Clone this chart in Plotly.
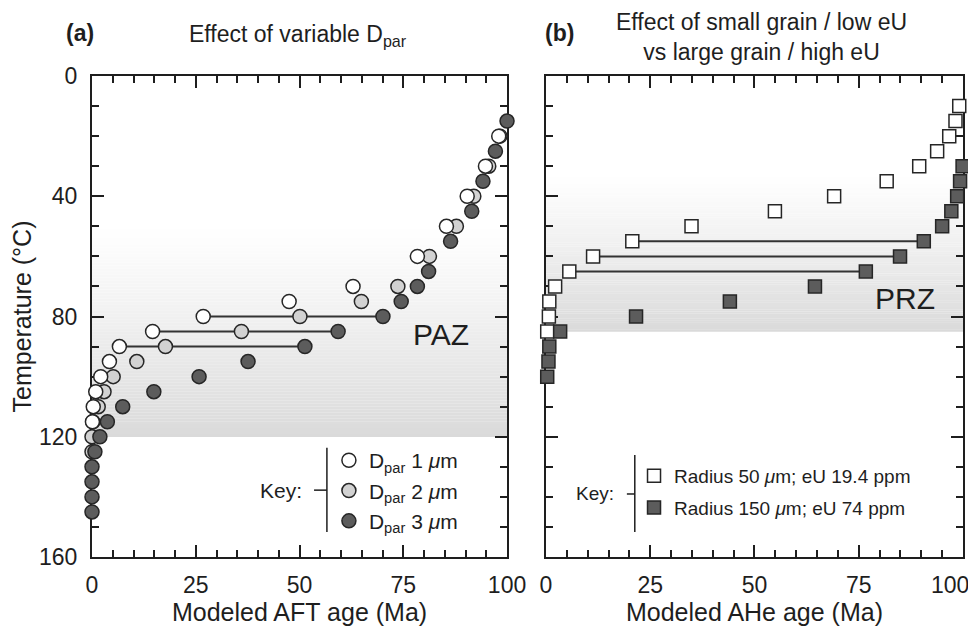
import plotly.graph_objects as go

# ---- data ----
# (a) AFT ages vs temperature for three Dpar values
aft_temp_d1 = [20, 30, 40, 50, 60, 70, 75, 80, 85, 90, 95, 100, 105, 110, 115]
aft_age_d1 = [98.0, 94.8, 90.4, 85.4, 78.4, 62.9, 47.5, 26.8, 14.6, 6.6, 4.2, 2.1, 0.9, 0.3, 0.1]

aft_temp_d2 = [20, 30, 40, 50, 60, 70, 75, 80, 85, 90, 95, 100, 105, 110, 115, 120, 125]
aft_age_d2 = [98.3, 95.6, 92.0, 87.8, 81.3, 73.7, 64.9, 50.1, 36.0, 17.7, 10.8, 5.1, 2.9, 1.5, 0.2, 0.0, 0.0]

aft_temp_d3 = [15, 25, 35, 45, 55, 65, 70, 75, 80, 85, 90, 95, 100, 105, 110, 115, 120, 125, 130, 135, 140, 145]
aft_age_d3 = [100.0, 97.2, 94.2, 91.5, 86.4, 81.1, 78.4, 74.5, 70.1, 59.3, 51.3, 37.6, 25.8, 14.9, 7.4, 3.7, 1.9, 0.7, 0.0, 0.0, 0.0, 0.0]

aft_link_temps = [80, 85, 90]

# (b) AHe ages vs temperature for two grain types
ahe_temp_small = [10, 15, 20, 25, 30, 35, 40, 45, 50, 55, 60, 65, 70, 75, 80, 85]
ahe_age_small = [99.1, 98.2, 96.7, 93.8, 89.5, 81.7, 69.1, 54.9, 34.9, 20.7, 11.3, 5.6, 2.2, 0.8, 0.7, 0.3]

ahe_temp_large = [10, 15, 20, 25, 30, 35, 40, 45, 50, 55, 60, 65, 70, 75, 80, 85, 90, 95, 100]
ahe_age_large = [100.4, 100.4, 100.3, 100.2, 99.9, 99.3, 98.6, 97.2, 95.0, 90.6, 84.9, 76.7, 64.5, 44.1, 21.6, 3.4, 0.8, 0.6, 0.3]

ahe_link_temps = [55, 60, 65]

age_ticks = [0, 25, 50, 75, 100]
# last label padded so it stays inside the page at the right edge
ahe_tick_text = ["0", "25", "50", "75", "100\u00a0\u00a0\u00a0\u00a0"]

paz_zone = [50, 120]   # shading fades in from the top value
prz_zone = [33, 85]

FONT = "Liberation Sans, Arial, Helvetica, sans-serif"
INK = "#1e1e1e"
EDGE = "#262626"

fig = go.Figure()

# link lines (drawn first so markers sit on top)
for t in aft_link_temps:
    fig.add_trace(go.Scatter(
        x=[aft_age_d1[aft_temp_d1.index(t)], aft_age_d3[aft_temp_d3.index(t)]], y=[t, t],
        mode="lines", line=dict(color="#333333", width=2), showlegend=False,
        xaxis="x", yaxis="y", hoverinfo="skip"))
for t in ahe_link_temps:
    fig.add_trace(go.Scatter(
        x=[ahe_age_small[ahe_temp_small.index(t)], ahe_age_large[ahe_temp_large.index(t)]], y=[t, t],
        mode="lines", line=dict(color="#333333", width=2), showlegend=False,
        xaxis="x2", yaxis="y2", hoverinfo="skip"))

circ = dict(size=14, line=dict(color=EDGE, width=1.5))
fig.add_trace(go.Scatter(x=aft_age_d2, y=aft_temp_d2, mode="markers", name="D<sub>par</sub> 2 <i>μ</i>m",
                         marker=dict(color="#d2d2d2", **circ), legendrank=2, cliponaxis=False,
                         xaxis="x", yaxis="y"))
fig.add_trace(go.Scatter(x=aft_age_d1, y=aft_temp_d1, mode="markers", name="D<sub>par</sub> 1 <i>μ</i>m",
                         marker=dict(color="white", **circ), legendrank=1, cliponaxis=False,
                         xaxis="x", yaxis="y"))
fig.add_trace(go.Scatter(x=aft_age_d3, y=aft_temp_d3, mode="markers", name="D<sub>par</sub> 3 <i>μ</i>m",
                         marker=dict(color="#5c5c5c", **circ), legendrank=3, cliponaxis=False,
                         xaxis="x", yaxis="y"))

sq = dict(size=13, symbol="square", line=dict(color=EDGE, width=1.5))
fig.add_trace(go.Scatter(x=ahe_age_small, y=ahe_temp_small, mode="markers",
                         name="Radius 50 <i>μ</i>m; eU 19.4 ppm", legend="legend2", legendgroup="s",
                         marker=dict(color="white", **sq), cliponaxis=False, xaxis="x2", yaxis="y2"))
fig.add_trace(go.Scatter(x=ahe_age_large, y=ahe_temp_large, mode="markers",
                         name="Radius 150 <i>μ</i>m; eU 74 ppm", legend="legend2", legendgroup="l",
                         marker=dict(color="#5c5c5c", **sq), cliponaxis=False, xaxis="x2", yaxis="y2"))


def add_shade(xa, ya, top, bottom, dark=220, n=70):
    step = (bottom - top) / n
    for i in range(n):
        f = ((i + 0.5) / n) ** 1.1
        lv = round(255 - (255 - dark) * f)
        fig.add_shape(type="rect", xref=xa + " domain", yref=ya, x0=0, x1=1,
                      y0=top + i * step, y1=top + (i + 1) * step + 0.05,
                      fillcolor=f"rgb({lv},{lv},{lv})", line_width=0, layer="below")


add_shade("x", "y", paz_zone[0], paz_zone[1], dark=218)
add_shade("x2", "y2", prz_zone[0], prz_zone[1], dark=218)

xbase = dict(range=[0, 100], tickvals=age_ticks, ticks="inside", ticklen=12, tickwidth=1.5,
             tickcolor=INK, minor=dict(ticks="inside", ticklen=7, tick0=0, dtick=5, tickwidth=1.5, tickcolor=INK),
             showline=True, linewidth=2, linecolor=INK, mirror="ticks", showgrid=False,
             zeroline=False, layer="below traces", tickfont=dict(size=23, color=INK),
             ticklabelstandoff=6, title_font=dict(size=25, color=INK), title_standoff=2,
             automargin=False, ticklabeloverflow="allow")
ybase = dict(range=[160, 0], tick0=0, dtick=40, ticks="inside", ticklen=12, tickwidth=1.5,
             tickcolor=INK, minor=dict(ticks="inside", ticklen=7, dtick=10, tickwidth=1.5, tickcolor=INK),
             showline=True, linewidth=2, linecolor=INK, mirror="ticks", showgrid=False,
             zeroline=False, layer="below traces", tickfont=dict(size=23, color=INK),
             ticklabelstandoff=8, automargin=False, ticklabeloverflow="allow")

# the page adds an 8px body margin, so the figure is 8px smaller and shifted
fig.update_layout(
    width=968, height=619,
    margin=dict(l=84, r=13, t=68, b=70),
    paper_bgcolor="white", plot_bgcolor="rgba(0,0,0,0)",
    font=dict(family=FONT, color=INK),
    xaxis=dict(xbase, domain=[0, 0.4765], anchor="y", title_text="Modeled AFT age (Ma)"),
    xaxis2=dict(xbase, domain=[0.5212, 1], anchor="y2", title_text="Modeled AHe age (Ma)",
                ticktext=ahe_tick_text),
    yaxis=dict(ybase, domain=[0, 1], anchor="x", title_text="Temperature (°C)",
               title_font=dict(size=25, color=INK), title_standoff=14),
    yaxis2=dict(ybase, domain=[0, 1], anchor="x2", showticklabels=False),
    legend=dict(x=0.272, y=0.243, xanchor="left", yanchor="top",
                bgcolor="rgba(0,0,0,0)", font=dict(size=21, color=INK), itemwidth=30),
    legend2=dict(x=0.6223, y=0.208, xanchor="left", yanchor="top", tracegroupgap=4,
                 bgcolor="rgba(0,0,0,0)", font=dict(size=19, color=INK), itemwidth=30),
    showlegend=True,
)

# legend brackets ("Key: -|")
for xa, ya, bx, ty, y0, y1, tx0, fs in [("x", "y", 0.566, 0.139, 0.227, 0.052, 0.535, 21),
                                         ("x2", "y2", 0.213, 0.131, 0.212, 0.052, 0.194, 19)]:
    fig.add_shape(type="line", xref=xa + " domain", yref=ya + " domain", x0=bx, x1=bx, y0=y0, y1=y1,
                  line=dict(color=INK, width=1.5))
    fig.add_shape(type="line", xref=xa + " domain", yref=ya + " domain", x0=tx0, x1=bx, y0=ty, y1=ty,
                  line=dict(color=INK, width=1.5))
    fig.add_annotation(text="Key:", xref=xa + " domain", yref=ya + " domain", x=tx0 - 0.025, y=ty,
                       xanchor="right", yanchor="middle", showarrow=False,
                       font=dict(size=fs, color=INK))

# zone labels
fig.add_annotation(text="PAZ", xref="x", yref="y", x=84, y=86, showarrow=False,
                   font=dict(size=30, color=INK))
fig.add_annotation(text="PRZ", xref="x2", yref="y2", x=86, y=74, showarrow=False,
                   font=dict(size=30, color=INK))

# panel titles
fig.add_annotation(text="<b>(a)</b>", xref="paper", yref="paper", x=-0.014, y=1.09,
                   xanchor="center", yanchor="middle", showarrow=False, font=dict(size=23, color=INK))
fig.add_annotation(text="Effect of variable D<sub>par</sub>", xref="paper", yref="paper", x=0.2365, y=1.085,
                   xanchor="center", yanchor="middle", showarrow=False, font=dict(size=23, color=INK))
fig.add_annotation(text="<b>(b)</b>", xref="paper", yref="paper", x=0.537, y=1.09,
                   xanchor="center", yanchor="middle", showarrow=False, font=dict(size=23, color=INK))
fig.add_annotation(text="Effect of small grain / low eU<br>vs large grain / high eU", xref="paper",
                   yref="paper", x=0.769, y=1.082, xanchor="center", yanchor="middle", showarrow=False,
                   font=dict(size=23, color=INK))

fig.write_html("out.html")
